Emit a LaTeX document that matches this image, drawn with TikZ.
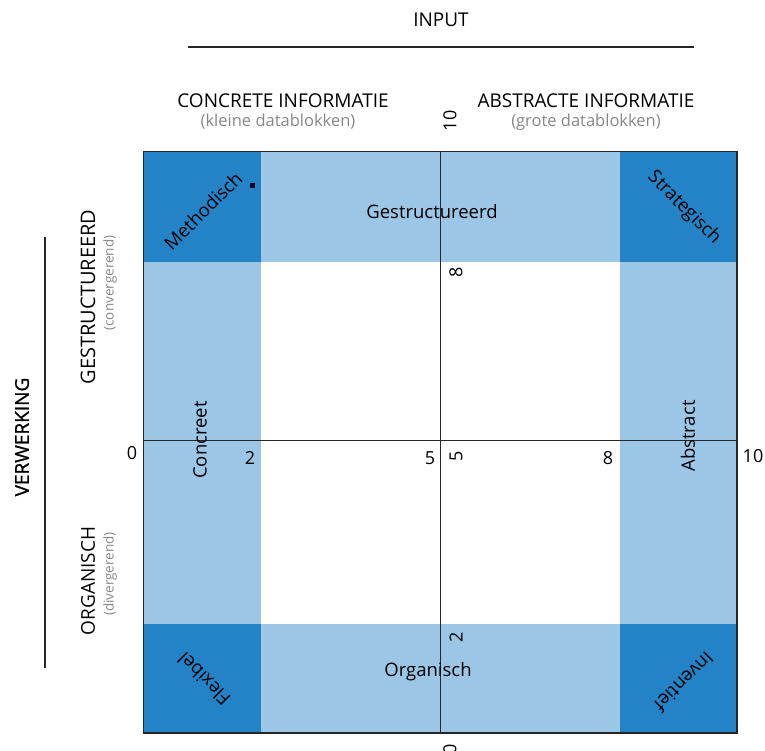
\documentclass[tikz,border=0pt]{standalone}
\usepackage{fontspec}
\setmainfont{Open Sans}
\newfontfamily\heavysans[FakeBold=1.1]{Open Sans}
\begin{document}
\definecolor{deepblue}{RGB}{36,130,199}
\definecolor{paleblue}{RGB}{155,198,230}
\definecolor{subgrey}{RGB}{135,135,135}
\begin{tikzpicture}[x=1pt,y=-1pt,
  head/.style={font=\fontsize{19}{21}\selectfont, inner sep=0pt},
  sub/.style={font=\fontsize{16.5}{18}\selectfont, text=subgrey, inner sep=0pt},
  sidesub/.style={font=\fontsize{13.5}{15}\selectfont, text=subgrey, inner sep=0pt},
  zone/.style={font=\fontsize{18.5}{20}\selectfont, inner sep=0pt},
  tick/.style={font=\fontsize{18}{20}\selectfont, inner sep=0pt},
  rule/.style={line width=1.3pt, black!85},
  axis/.style={line width=1.2pt, black!85}]
\useasboundingbox (0,0) rectangle (765,751);

% corners of the square
\coordinate (nw) at (143.5,151.5);
\coordinate (se) at (737,733);

% bands and corners
\fill[paleblue] (143.5,151.5) rectangle (737,262);
\fill[paleblue] (143.5,624) rectangle (737,733);
\fill[paleblue] (143.5,262) rectangle (261,624);
\fill[paleblue] (620,262) rectangle (737,624);
\fill[deepblue] (143.5,151.5) rectangle (261,262);
\fill[deepblue] (620,151.5) rectangle (737,262);
\fill[deepblue] (143.5,624) rectangle (261,733);
\fill[deepblue] (620,624) rectangle (737,733);

% axes
\coordinate (xl) at (143.5,440.5);
\coordinate (xr) at (737,440.5);
\coordinate (yt) at (440.5,151.5);
\coordinate (yb) at (440.5,733);
\draw[axis] (xl) -- (xr);
\draw[axis] (yt) -- (yb);
\draw[line width=1.5pt, black!85] (nw) rectangle (se);

% small marker
\fill[black!85!blue] (249.5,183.5) rectangle (254.5,188.5);

% input header
\node[head] (input) at (441,20) {INPUT};
\coordinate (inl) at (188,47);
\coordinate (inr) at (694,47);
\draw[rule] (inl) -- (inr);

\node[head] (conc) at (283,101) {CONCRETE INFORMATIE};
\node[sub] (concsub) at (278,122) {(kleine datablokken)};
\node[head] (abst) at (586,101) {ABSTRACTE INFORMATIE};
\node[sub] (abstsub) at (586,122) {(grote datablokken)};

% processing header
\node[head, rotate=90, font=\heavysans\fontsize{19}{21}\selectfont] (verw) at (22,437) {VERWERKING};
\coordinate (vt) at (45,237);
\coordinate (vb) at (45,668);
\draw[rule] (vt) -- (vb);

\node[head, rotate=90, font=\fontsize{20}{22}\selectfont] (gest) at (88,297) {GESTRUCTUREERD};
\node[sidesub, rotate=90] (conv) at (110,283) {(convergerend)};
\node[head, rotate=90] (org) at (88,581) {ORGANISCH};
\node[sidesub, rotate=90] (div) at (110,574) {(divergerend)};

% horizontal scale
\node[tick] (h0) at (132,453) {0};
\node[tick] (h2) at (250,458) {2};
\node[tick] (h5) at (430,458) {5};
\node[tick] (h8) at (608,458) {8};
\node[tick] (h10) at (753,456) {10};

% vertical scale
\node[tick, rotate=90] (v10) at (450,121) {10};
\node[tick, rotate=90] (v8) at (456,272) {8};
\node[tick, rotate=90] (v5) at (456,456) {5};
\node[tick, rotate=90] (v2) at (456,637) {2};
\node[tick, rotate=90] (v0) at (450,749) {0};

% zone labels
\node[zone] (zg) at (432,212) {Gestructureerd};
\node[zone] (zo) at (428,672) {Organisch};
\node[zone, rotate=90] (zc) at (200,440) {Concreet};
\node[zone, rotate=90] (za) at (688,436) {Abstract};

% corner labels
\node[zone, rotate=45] (cm) at (203,211) {Methodisch};
\node[zone, rotate=-45] (cs) at (684,208) {Strategisch};
\node[zone, rotate=135] (cf) at (204,679) {Flexibel};
\node[zone, rotate=225] (ci) at (684,682) {Inventief};
\end{tikzpicture}
\end{document}
